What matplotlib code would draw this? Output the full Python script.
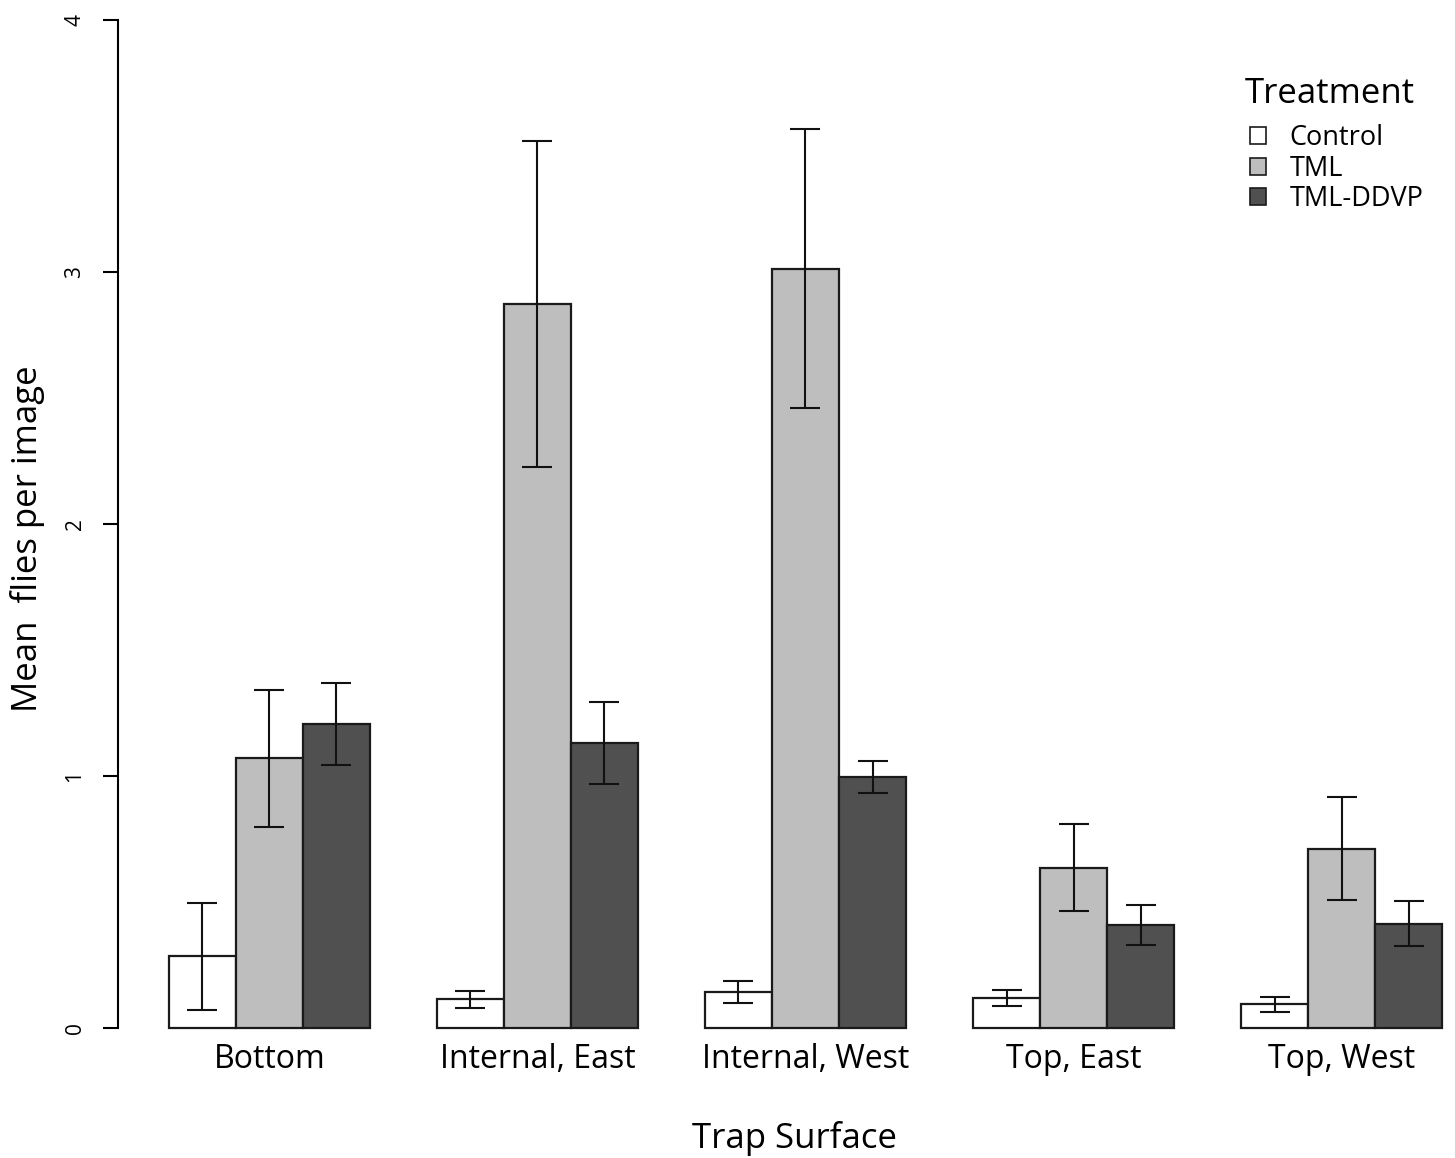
import numpy as np
import matplotlib
matplotlib.use("Agg")
import matplotlib.pyplot as plt
from matplotlib.patches import Patch

plt.rcParams["font.family"] = ["Open Sans", "DejaVu Sans"]

# data
surfaces = ["Bottom", "Internal, East", "Internal, West", "Top, East", "Top, West"]
treatments = ["Control", "TML", "TML-DDVP"]
colors = ["#FFFFFF", "#BEBEBE", "#505050"]
yticks = [0, 1, 2, 3, 4]

control = [0.286, 0.115, 0.143, 0.119, 0.095]
control_lo = [0.071, 0.079, 0.099, 0.087, 0.063]
control_hi = [0.496, 0.147, 0.187, 0.151, 0.123]

tml = [1.071, 2.873, 3.012, 0.635, 0.710]
tml_lo = [0.798, 2.226, 2.460, 0.464, 0.508]
tml_hi = [1.341, 3.520, 3.567, 0.810, 0.917]

ddvp = [1.206, 1.131, 0.996, 0.409, 0.413]
ddvp_lo = [1.044, 0.968, 0.933, 0.329, 0.325]
ddvp_hi = [1.369, 1.294, 1.060, 0.488, 0.504]

W, H = 1455, 1158
fig = plt.figure(figsize=(W / 100, H / 100), dpi=100)
# axes laid out like an R barplot (4% extension on both axes)
ax = fig.add_axes([118 / W, 1 - 1068 / H, 1375 / W, 1088 / H])

series = [(control, control_lo, control_hi),
          (tml, tml_lo, tml_hi),
          (ddvp, ddvp_lo, ddvp_hi)]
groups = np.arange(len(surfaces)) * 4
for i, (vals, lo, hi) in enumerate(series):
    vals = np.array(vals)
    x = groups + i
    ax.bar(x, vals, width=1, align="edge", color=colors[i],
           edgecolor="#1a1a1a", linewidth=1.6, zorder=2)
    yerr = np.vstack([vals - np.array(lo), np.array(hi) - vals])
    ax.errorbar(x + 0.5, vals, yerr=yerr, fmt="none", ecolor="#111111",
                elinewidth=1.5, capsize=11, capthick=1.5, zorder=3)

ax.set_xlim(-0.76, 19.76)
ax.set_ylim(-0.16, 4.16)

for s in ["top", "right", "bottom"]:
    ax.spines[s].set_visible(False)
ax.spines["left"].set_bounds(0, 4)
ax.spines["left"].set_linewidth(1.5)

ax.set_yticks(yticks)
ax.set_yticklabels([])
ax.tick_params(axis="y", length=11, width=1.5)
# rotated tick labels (R style, las=0)
ytrans = ax.get_yaxis_transform()
for v in yticks:
    ax.text(-43 / 1375, v, str(v), transform=ytrans, rotation=90,
            ha="center", va="center", fontsize=15, clip_on=False)

# group names, placed just under the baseline like R's barplot names
ax.set_xticks([])
for g, name in zip(groups, surfaces):
    ax.text(g + 1.5, -0.159, name, ha="center", va="baseline", fontsize=23,
            clip_on=False)

fig.text(28 / W, 1 - 539 / H, "Mean  flies per image", rotation=90,
         ha="center", va="center", fontsize=25)
fig.text(795 / W, 1 - 1138 / H, "Trap Surface", ha="center", va="center",
         fontsize=25)

fig.text(1245 / W, 1 - 94 / H, "Treatment", ha="left", va="center",
         fontsize=25)
handles = [Patch(facecolor=c, edgecolor="#1a1a1a", linewidth=1.2) for c in colors]
leg = ax.legend(handles, treatments, frameon=False,
                loc="upper left", bbox_to_anchor=(1250 / W, 1 - 124 / H),
                bbox_transform=fig.transFigure, fontsize=19.5,
                handlelength=0.6, handleheight=0.6,
                handletextpad=0.85, labelspacing=0.1,
                borderaxespad=0, borderpad=0)

fig.savefig("out.png", dpi=100)
